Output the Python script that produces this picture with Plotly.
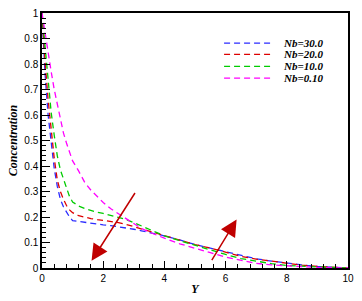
import plotly.graph_objects as go

Y = [0, 0.05, 0.1, 0.2, 0.3, 0.4, 0.5, 0.6, 0.7, 0.8, 0.9, 1.0, 1.2, 1.4, 1.6, 1.8, 2.0,
     2.25, 2.5, 2.75, 3.0, 3.25, 3.5, 3.75, 4.0, 4.5, 5.0, 5.5, 6.0, 6.5, 7.0, 7.5, 8.0,
     8.5, 9.0, 9.5, 10]

nb_30 = [1.0, 0.88, 0.76, 0.60, 0.50, 0.39, 0.32, 0.27, 0.24, 0.22, 0.20, 0.186, 0.182,
         0.179, 0.176, 0.173, 0.169, 0.166, 0.162, 0.157, 0.152, 0.146, 0.140, 0.134, 0.126,
         0.110, 0.092, 0.078, 0.064, 0.048, 0.036, 0.027, 0.019, 0.012, 0.006, 0.003, 0.0]
nb_20 = [1.0, 0.90, 0.81, 0.66, 0.53, 0.43, 0.345, 0.30, 0.27, 0.245, 0.228, 0.217, 0.205,
         0.198, 0.194, 0.190, 0.187, 0.183, 0.178, 0.171, 0.162, 0.153, 0.145, 0.137, 0.128,
         0.110, 0.092, 0.078, 0.063, 0.046, 0.035, 0.027, 0.018, 0.011, 0.006, 0.002, 0.0]
nb_10 = [1.0, 0.93, 0.87, 0.74, 0.61, 0.52, 0.44, 0.385, 0.35, 0.31, 0.28, 0.259, 0.243,
         0.233, 0.225, 0.219, 0.214, 0.207, 0.200, 0.190, 0.178, 0.165, 0.149, 0.137, 0.126,
         0.107, 0.088, 0.071, 0.053, 0.037, 0.027, 0.017, 0.010, 0.006, 0.004, 0.002, 0.0]
nb_01 = [1.0, 0.96, 0.93, 0.85, 0.77, 0.70, 0.64, 0.59, 0.53, 0.49, 0.45, 0.42, 0.38,
         0.335, 0.305, 0.280, 0.257, 0.232, 0.212, 0.192, 0.172, 0.155, 0.141, 0.128, 0.117,
         0.095, 0.076, 0.060, 0.043, 0.030, 0.018, 0.012, 0.008, 0.004, 0.002, 0.001, 0.0]

series = [
    ("Nb=30.0", nb_30, "#2b2bff"),
    ("Nb=20.0", nb_20, "#dd0000"),
    ("Nb=10.0", nb_10, "#00cc00"),
    ("Nb=0.10", nb_01, "#ff00ff"),
]

# arrows: (tail_x, tail_y, head_x, head_y)
arrows = [(3.07, 0.30, 1.62, 0.028), (5.52, 0.025, 6.36, 0.19)]

fig = go.Figure()
for name, vals, col in series:
    fig.add_trace(go.Scatter(x=Y, y=vals, mode="lines", name=name,
                             line=dict(color=col, width=1.3, dash="6px,4px"),
                             showlegend=False))

# manual legend (paper coords)
leg_y = [0.882, 0.838, 0.791, 0.745]
for (name, vals, col), ly in zip(series, leg_y):
    fig.add_shape(type="line", xref="paper", yref="paper", x0=0.595, x1=0.758, y0=ly, y1=ly,
                  line=dict(color=col, width=1.3, dash="6px,4px"))
    fig.add_annotation(xref="paper", yref="paper", x=0.781, y=ly, xanchor="left",
                       yanchor="middle", showarrow=False, text="<b><i>%s</i></b>" % name,
                       font=dict(family="Liberation Serif", size=11, color="black"))

for tx, ty, hx, hy in arrows:
    fig.add_annotation(x=hx, y=hy, ax=tx, ay=ty, xref="x", yref="y", axref="x", ayref="y",
                       showarrow=True, arrowhead=2, arrowsize=2.2, arrowwidth=1.5,
                       arrowcolor="#c00000", text="")

axis_common = dict(showline=True, linecolor="black", linewidth=1.5, mirror=True,
                   ticks="inside", tickcolor="black", showgrid=False, zeroline=False,
                   tickfont=dict(family="Liberation Sans", size=10, color="black"))

fig.update_xaxes(range=[0, 10], dtick=2, tick0=0, ticklen=7,
                 minor=dict(dtick=0.4, ticklen=4, ticks="inside", tickcolor="black"),
                 title=dict(text="<b><i>Y</i></b>", standoff=2,
                            font=dict(family="Liberation Serif", size=12, color="black")),
                 **axis_common)
fig.update_yaxes(range=[0, 1], dtick=0.1, tick0=0, ticklen=8,
                 minor=dict(dtick=0.02, ticklen=4, ticks="inside", tickcolor="black"),
                 title=dict(text="<b><i>Concentration</i></b>", standoff=4,
                            font=dict(family="Liberation Serif", size=12, color="black")),
                 **axis_common)

fig.update_layout(width=362, height=301, margin=dict(l=42, r=14, t=7, b=29),
                  plot_bgcolor="white", paper_bgcolor="white")

fig.write_html("out.html", config={"displayModeBar": False},
               post_script="document.body.style.margin='0';")
